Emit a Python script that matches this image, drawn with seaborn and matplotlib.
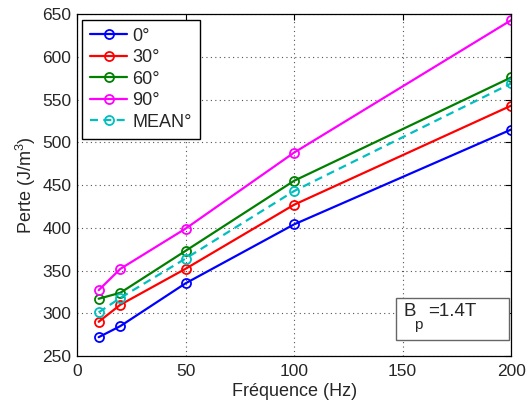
import matplotlib
matplotlib.use("Agg")
import matplotlib.pyplot as plt
from matplotlib.patches import Rectangle
import seaborn as sns
import pandas as pd
import numpy as np

freq = [10, 20, 50, 100, 200]
loss_0 = [272, 285, 335, 404, 515]
loss_30 = [290, 310, 352, 427, 543]
loss_60 = [317, 324, 373, 455, 576]
loss_90 = [327, 352, 399, 488, 643]
loss_mean = [301, 318, 364, 443, 569]
labels = ["0°", "30°", "60°", "90°", "MEAN°"]
colors = ["#0000ff", "#ff0000", "#008000", "#ff00ff", "#00bfbf"]
xticks = [0, 50, 100, 150, 200]
yticks = [250, 300, 350, 400, 450, 500, 550, 600, 650]

sns.set_style("white")
plt.rcParams['font.family'] = ['Liberation Sans', 'DejaVu Sans']
plt.rcParams['mathtext.fontset'] = 'custom'
plt.rcParams['mathtext.rm'] = 'Liberation Sans'
plt.rcParams['mathtext.it'] = 'Liberation Sans'

rows = []
for lab, vals in zip(labels, [loss_0, loss_30, loss_60, loss_90, loss_mean]):
    for f, v in zip(freq, vals):
        rows.append({"freq": f, "loss": v, "series": lab})
df = pd.DataFrame(rows)

fig = plt.figure(figsize=(5.27, 4.05), dpi=100)
ax = fig.add_axes([0.146, 0.121, 0.824, 0.844])

for lab, col in zip(labels, colors):
    sub = df[df.series == lab]
    sns.lineplot(data=sub, x="freq", y="loss", ax=ax, color=col, lw=1.6,
                 marker="o", markersize=6.5, markerfacecolor="none",
                 markeredgecolor=col, markeredgewidth=1.3, label=lab)

for line in ax.get_lines():
    if line.get_label() == "MEAN°":
        line.set_linestyle((0, (3.6, 2.4)))

ax.set_xlim(0, 200)
ax.set_ylim(250, 650)
ax.set_xticks(xticks)
ax.set_yticks(yticks)
ax.grid(True, linestyle=(0, (1, 3)), color="#555555", linewidth=0.8)
ax.tick_params(direction="in", length=4, top=True, right=True, labelsize=12.5,
               color="black", width=0.8)
ax.tick_params(axis="x", pad=6)
ax.tick_params(axis="y", pad=4)
for s in ax.spines.values():
    s.set_color("black")
    s.set_linewidth(0.9)
ax.set_xlabel("Fréquence (Hz)", fontsize=13, labelpad=3)
ax.set_ylabel("Perte (J/m$^3$)", fontsize=13, labelpad=3)

leg = ax.legend(loc="upper left", fontsize=13, frameon=True, fancybox=False,
                handlelength=2.0, borderaxespad=0.3, handletextpad=0.3,
                labelspacing=0.25, borderpad=0.45)
leg.get_frame().set_edgecolor("black")
leg.get_frame().set_linewidth(1.0)
leg.get_frame().set_alpha(1)
for h in leg.get_lines():
    if h.get_label() == "MEAN°":
        h.set_linestyle((0, (3.6, 2.4)))

ax.add_patch(Rectangle((0.735, 0.047), 0.259, 0.123, transform=ax.transAxes,
                       facecolor="white", edgecolor="#666666", linewidth=1.0,
                       zorder=5))
ax.text(0.753, 0.13, "B", transform=ax.transAxes, fontsize=13.5,
        va="center", ha="left", zorder=6)
ax.text(0.777, 0.09, "p", transform=ax.transAxes, fontsize=11,
        va="center", ha="left", zorder=6)
ax.text(0.808, 0.13, "=1.4T", transform=ax.transAxes, fontsize=13.5,
        va="center", ha="left", zorder=6)

fig.savefig("out.png", dpi=100)
